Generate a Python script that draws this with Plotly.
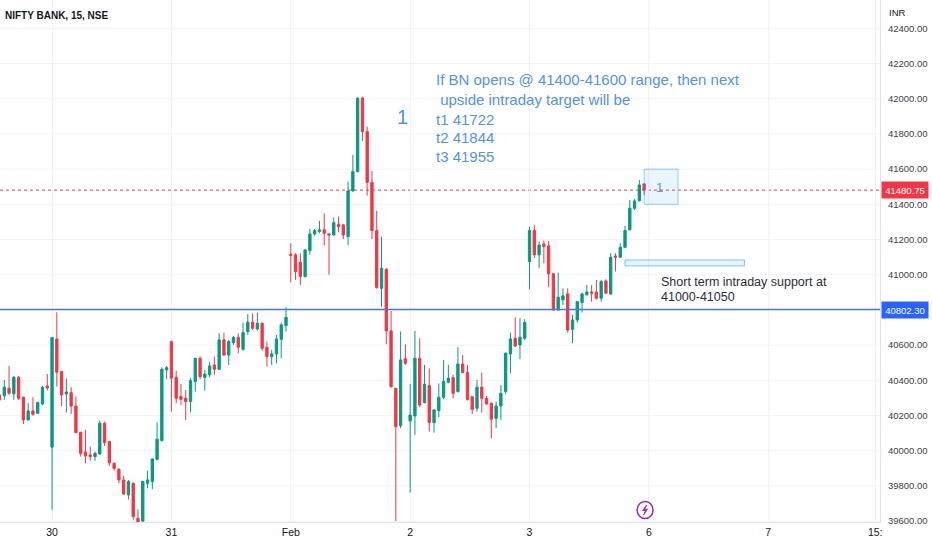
import plotly.graph_objects as go

# ---- data (bar index 0 = first 15-min bar of 30 Jan) ----
bar_index = list(range(-11, 125))

opens = [
    40317, 40313, 40355, 40323, 40417, 40304, 40175, 40226, 40213, 40266, 40368,
    40020, 40635, 40450, 40323, 40330, 40254, 40105, 39993, 39976, 39967, 39982, 40156, 40052, 39929, 39895,
    39834, 39749, 39815, 39616, 39600, 39815, 39825, 39951, 40058, 40459,
    40620, 40417, 40308, 40298, 40279, 40393, 40525, 40417, 40431, 40487, 40463, 40630, 40544, 40614, 40643,
    40576, 40677, 40730, 40692, 40724, 40588, 40535, 40550, 40633, 40711,
    41116, 41113, 41071, 40990, 41137, 41232, 41245, 41255, 41232, 41226, 41287, 41283, 41217, 41476, 41586,
    42003, 41813, 41525, 41251, 40923, 41031, 40681, 40355, 40143, 40522,
    40169, 40198, 40525, 40273, 40370, 40160, 40228, 40304, 40389, 40415, 40336, 40493, 40444, 40307, 40241,
    40361, 40298, 40270, 40184, 40254, 40336, 40550, 40639, 40601, 40639,
    41075, 41251, 41113, 41175, 41164, 41005, 40800, 40857, 40891, 40690, 40743, 40842, 40887, 40902, 40902,
    40866, 40965, 40891, 41107, 41099, 41156, 41255, 41378, 41421, 41516,
]
highs = [
    40330, 40402, 40482, 40425, 40425, 40307, 40270, 40304, 40279, 40368, 40436,
    40643, 40787, 40453, 40410, 40361, 40307, 40107, 40118, 40023, 39995, 40171, 40165, 40054, 39932, 39900,
    39857, 39834, 39819, 39667, 39830, 39887, 39957, 40160, 40474, 40482,
    40625, 40455, 40379, 40345, 40412, 40528, 40535, 40459, 40506, 40535, 40667, 40671, 40630, 40652, 40667,
    40728, 40777, 40781, 40785, 40728, 40620, 40573, 40658, 40728, 40815,
    41179, 41122, 41122, 41145, 41260, 41260, 41306, 41349, 41236, 41325, 41330, 41287, 41529, 41681, 42007,
    42012, 41842, 41590, 41363, 41217, 41037, 40794, 40355, 40677, 40605,
    40380, 40681, 40639, 40487, 40468, 40236, 40383, 40516, 40487, 40431, 40588, 40544, 40487, 40311, 40402,
    40444, 40311, 40273, 40279, 40374, 40558, 40671, 40758, 40753, 40747,
    41273, 41283, 41188, 41194, 41192, 41008, 41012, 40923, 40923, 40772, 40851, 40898, 40942, 40940, 40970,
    40970, 40974, 41122, 41122, 41179, 41277, 41425, 41429, 41539, 41520,
]
lows = [
    40280, 40289, 40317, 40289, 40289, 40152, 40171, 40198, 40209, 40260, 40342,
    39664, 40364, 40254, 40217, 40209, 40099, 39967, 39929, 39944, 39944, 39976, 40027, 39914, 39887, 39815,
    39749, 39724, 39607, 39575, 39575, 39787, 39781, 39944, 40052, 40406,
    40222, 40270, 40260, 40175, 40217, 40336, 40406, 40342, 40417, 40431, 40459, 40539, 40487, 40601, 40554,
    40569, 40658, 40686, 40683, 40569, 40478, 40487, 40497, 40525, 40677,
    40957, 40971, 40942, 40984, 41113, 41222, 41236, 41166, 41000, 41222, 41241, 41203, 41169, 41472, 41582,
    41760, 41450, 41203, 40920, 40819, 40605, 40359, 39600, 40128, 40488,
    39762, 40090, 40247, 40270, 40109, 40103, 40190, 40292, 40383, 40298, 40330, 40440, 40285, 40209, 40222,
    40217, 40262, 40071, 40128, 40175, 40323, 40440, 40588, 40520, 40629,
    40917, 41094, 41037, 41065, 40929, 40795, 40796, 40828, 40671, 40611, 40728, 40785, 40880, 40847, 40861,
    40847, 40891, 40885, 41018, 41094, 41150, 41251, 41368, 41416, 41453,
]
closes = [
    40289, 40361, 40327, 40417, 40298, 40175, 40226, 40207, 40273, 40361, 40357,
    40643, 40446, 40317, 40334, 40254, 40103, 39985, 39970, 39967, 39985, 40156, 40046, 39932, 39900, 39834,
    39754, 39825, 39626, 39590, 39825, 39834, 39953, 40065, 40463, 40472,
    40412, 40298, 40292, 40279, 40398, 40525, 40421, 40436, 40482, 40463, 40630, 40544, 40620, 40643, 40588,
    40671, 40730, 40696, 40724, 40582, 40535, 40550, 40635, 40715, 40758,
    41109, 41018, 40990, 41141, 41232, 41251, 41255, 41236, 41226, 41296, 41273, 41226, 41476, 41586, 42003,
    41813, 41525, 41251, 40927, 41037, 40681, 40364, 40137, 40516, 40497,
    40203, 40525, 40260, 40378, 40160, 40232, 40304, 40393, 40412, 40326, 40493, 40444, 40292, 40235, 40361,
    40298, 40266, 40179, 40254, 40326, 40554, 40635, 40595, 40645, 40728,
    41251, 41113, 41169, 41160, 41005, 40800, 40872, 40880, 40686, 40743, 40847, 40891, 40902, 40895, 40866,
    40961, 40895, 41099, 41099, 41156, 41251, 41378, 41419, 41510, 41480.75,
]

day_tick_pos = [0, 25, 50, 75, 100, 125, 150, 172.4]
day_tick_text = ["30", "31", "Feb", "2", "3", "6", "7", "15:"]
# 40800 label is hidden behind the horizontal-line price tag in the original
price_ticks = [39600, 39800, 40000, 40200, 40400, 40600, 41000, 41200,
               41400, 41600, 41800, 42000, 42200, 42400]
grid_prices = list(range(39600, 42401, 200))

last_price = 41480.75
hline_price = 40802.30
zone_open = [124, 131.1, 41400, 41600]
zone_support = [120, 145, 41050, 41084]

note_lines = ["If BN opens @ 41400-41600 range, then next",
              "\u00a0upside intraday target will be",
              "t1 41722", "t2 41844", "t3 41955"]
note_line_y = [42107, 41997, 41884, 41779, 41671]
note_x = 80.4
support_lines = ["Short term intraday support at", "41000-41050"]
support_line_y = [40961, 40876]
support_x = 127.5

UP = "#089981"
DOWN = "#F23645"
BLUE_TXT = "#5393ea"
FONT = "Liberation Sans, Arial, sans-serif"

fig = go.Figure()
fig.add_trace(go.Candlestick(
    x=bar_index, open=opens, high=highs, low=lows, close=closes,
    increasing=dict(line=dict(color=UP, width=1), fillcolor=UP),
    decreasing=dict(line=dict(color=DOWN, width=1), fillcolor=DOWN),
    whiskerwidth=0, hoverinfo="skip", showlegend=False,
))

shapes = [
    dict(type="line", xref="paper", x0=0, x1=1, yref="y", y0=p, y1=p,
         line=dict(color="#f0f3fa", width=1), layer="below") for p in grid_prices
]
shapes += [
    dict(type="line", xref="paper", x0=0, x1=1, yref="y", y0=last_price, y1=last_price,
         line=dict(color=DOWN, width=1, dash="dot"), layer="below"),
    dict(type="line", xref="paper", x0=0, x1=1, yref="y", y0=hline_price, y1=hline_price,
         line=dict(color="#4a74e8", width=1.6)),
    dict(type="rect", xref="x", yref="y", x0=zone_open[0], x1=zone_open[1], y0=zone_open[2], y1=zone_open[3],
         fillcolor="rgba(33,150,243,0.10)", line=dict(color="rgba(33,150,243,0.45)", width=1)),
    dict(type="rect", xref="x", yref="y", x0=zone_support[0], x1=zone_support[1], y0=zone_support[2], y1=zone_support[3],
         fillcolor="rgba(33,150,243,0.10)", line=dict(color="rgba(33,150,243,0.55)", width=1)),
    # event marker (lightning) on the time scale
    dict(type="circle", xref="x", yref="paper", xsizemode="pixel", ysizemode="pixel",
         xanchor=124.2, yanchor=0.023, x0=-8, x1=8, y0=-8.5, y1=8.5,
         line=dict(color="#9c27b0", width=1.5), fillcolor="white"),
    dict(type="path", xref="x", yref="paper", xsizemode="pixel", ysizemode="pixel",
         xanchor=124.2, yanchor=0.023,
         path="M 1.5,5 L -2.5,-0.5 L 0.3,-0.5 L -1.5,-5 L 2.5,0.8 L -0.3,0.8 Z",
         line=dict(color="#9c27b0", width=0.8), fillcolor="#9c27b0"),
]

annotations = [
    dict(xref="paper", yref="paper", x=0, y=1, xanchor="left", yanchor="top", xshift=3, yshift=-8,
         text="<b>NIFTY BANK, 15, NSE</b>", showarrow=False, bgcolor="rgba(255,255,255,0.85)",
         font=dict(family=FONT, size=10, color="#131722")),
    dict(xref="paper", yref="paper", x=1, y=1, xanchor="left", yanchor="top", xshift=7, yshift=-5,
         text="INR", showarrow=False, font=dict(family=FONT, size=9.5, color="#131722")),
    dict(xref="paper", yref="y", x=1, y=last_price, xanchor="left", yanchor="middle", xshift=1,
         text="41480.75", showarrow=False, bgcolor=DOWN, width=44, height=14, borderpad=1,
         font=dict(family=FONT, size=9.5, color="white")),
    dict(xref="paper", yref="y", x=1, y=hline_price, xanchor="left", yanchor="middle", xshift=1,
         text="40802.30", showarrow=False, bgcolor="#2962FF", width=44, height=14, borderpad=1,
         font=dict(family=FONT, size=9.5, color="white")),
    dict(xref="x", yref="y", x=73.4, y=41898, text="1", showarrow=False,
         font=dict(family=FONT, size=20, color=BLUE_TXT)),
    dict(xref="x", yref="y", x=127.3, y=41493, text="1", showarrow=False,
         font=dict(family=FONT, size=13, color="#6f93c8")),
]
for txt, yy in zip(note_lines, note_line_y):
    annotations.append(dict(xref="x", yref="y", x=note_x, y=yy, xanchor="left", yanchor="middle",
                            text=txt, showarrow=False, xshift=-2,
                            font=dict(family=FONT, size=15, color=BLUE_TXT)))
for txt, yy in zip(support_lines, support_line_y):
    annotations.append(dict(xref="x", yref="y", x=support_x, y=yy, xanchor="left", yanchor="middle",
                            text=txt, showarrow=False, xshift=-2,
                            font=dict(family=FONT, size=12.5, color="#2a2e39")))

fig.update_layout(
    width=932, height=550,
    margin=dict(l=0, r=52, t=0, b=28),
    paper_bgcolor="white", plot_bgcolor="white",
    showlegend=False,
    shapes=shapes, annotations=annotations,
    xaxis=dict(range=[-10.9, 173.4], rangeslider=dict(visible=False),
               tickvals=day_tick_pos, ticktext=day_tick_text,
               showgrid=True, gridcolor="#f0f3fa", gridwidth=1,
               showline=True, linecolor="#e0e3eb", zeroline=False,
               ticks="", tickfont=dict(family=FONT, size=10.5, color="#131722")),
    yaxis=dict(range=[39595, 42561], side="right", tickvals=price_ticks,
               tickformat=".2f", showgrid=False,
               showline=True, linecolor="#e0e3eb", zeroline=False, ticks="",
               ticklabelstandoff=5,
               tickfont=dict(family=FONT, size=9.5, color="#3b3f4a")),
)

fig.write_html("out.html", config={"displayModeBar": False},
               post_script="document.body.style.margin='0';")
